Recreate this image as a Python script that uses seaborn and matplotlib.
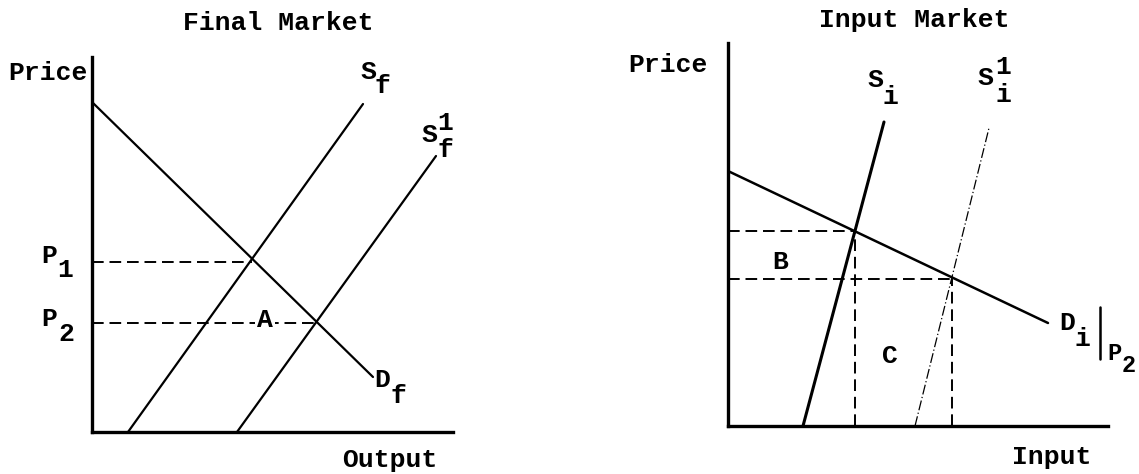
import matplotlib
matplotlib.use("Agg")
import matplotlib.pyplot as plt
import seaborn as sns
import numpy as np

# ---------------- data (units: panel-relative) ----------------
# Final market
demand_f_q = [0, 281]
demand_f_p = [330, 55]
supply_f_q = [36, 271]
supply_f_p = [0, 328]
supply_f1_q = [145, 344]
supply_f1_p = [0, 276]
p1_price, p1_qty = 170, 160
p2_price, p2_qty = 109, 223

# Input market
demand_i_q = [0, 320]
demand_i_p = [255, 103]
supply_i_q = [75, 156]
supply_i_p = [0, 304]
supply_i1_q = [187, 261]
supply_i1_p = [0, 298]
w1_price, w1_qty = 195, 127
w2_price, w2_qty = 147, 224

sns.set_theme(style="white")
plt.rcParams['font.family'] = ['Liberation Mono', 'DejaVu Sans Mono']

W, H = 1139, 474
fig = plt.figure(figsize=(W / 100, H / 100), dpi=100)
fig.patch.set_facecolor("white")

def add_axes(x0, y0_top, x1, y1_bottom):
    return fig.add_axes([x0 / W, (H - y1_bottom) / H, (x1 - x0) / W, (y1_bottom - y0_top) / H])

axL = add_axes(92, 57, 453, 432)
axR = add_axes(728, 43, 1108, 426)

for ax, xl, yl in [(axL, 361, 375), (axR, 380, 383)]:
    ax.set_xlim(0, xl)
    ax.set_ylim(0, yl)
    sns.despine(ax=ax)
    for s in ["left", "bottom"]:
        ax.spines[s].set_linewidth(2.4)
        ax.spines[s].set_color("black")
    ax.set_xticks([])
    ax.set_yticks([])
    ax.set_facecolor("white")
    ax.set_xlabel("")
    ax.set_ylabel("")

def line(ax, x, y, lw=1.6, ls="-"):
    sns.lineplot(x=x, y=y, ax=ax, color="black", linewidth=lw, linestyle=ls,
                 estimator=None, sort=False)

dash = (0, (6, 3))

# Left panel
line(axL, demand_f_q, demand_f_p)
line(axL, supply_f_q, supply_f_p)
line(axL, supply_f1_q, supply_f1_p)
line(axL, [0, p1_qty], [p1_price, p1_price], lw=1.4, ls=dash)
line(axL, [0, p2_qty], [p2_price, p2_price], lw=1.4, ls=dash)

# Right panel
line(axR, demand_i_q, demand_i_p, lw=1.8)
line(axR, supply_i_q, supply_i_p, lw=2.2)
line(axR, supply_i1_q, supply_i1_p, lw=0.9, ls=(0, (8, 2, 1, 2)))
line(axR, [0, w1_qty], [w1_price, w1_price], lw=1.4, ls=dash)
line(axR, [0, w2_qty], [w2_price, w2_price], lw=1.4, ls=dash)
line(axR, [w1_qty, w1_qty], [0, w1_price], lw=1.4, ls=dash)
line(axR, [w2_qty, w2_qty], [0, w2_price], lw=1.4, ls=dash)

fs = 19
def t(ax, x, y, s, size=fs, bg=False):
    kw = {}
    if bg:
        kw["bbox"] = dict(facecolor="white", edgecolor="none", pad=1.5)
    ax.text(x, y, s, ha="center", va="center", fontsize=size, fontweight="bold",
            color="black", clip_on=False, zorder=5, **kw)

# Left labels
t(axL, 186, 409, "Final Market")
t(axL, -44, 359, "Price")
t(axL, -43, 176, "P"); t(axL, -27, 162, "1")
t(axL, -43, 113, "P"); t(axL, -26, 98, "2")
t(axL, 173, 112, "A", bg=True)
t(axL, 276, 360, "S"); t(axL, 290, 346, "f")
t(axL, 337, 297, "S"); t(axL, 353, 309, "1"); t(axL, 353, 282, "f")
t(axL, 290, 52, "D"); t(axL, 306, 36, "f")
t(axL, 298, -28, "Output")

# Right labels
t(axR, 186, 406, "Input Market")
t(axR, -60, 361, "Price")
t(axR, 147, 346, "S"); t(axR, 162, 329, "i")
t(axR, 257, 348, "S"); t(axR, 275, 359, "1"); t(axR, 275, 331, "i")
t(axR, 52, 164, "B")
t(axR, 162, 70, "C")
t(axR, 339, 103, "D"); t(axR, 354, 87, "i")
axR.plot([372, 372], [67, 119], color="black", lw=1.8, clip_on=False)
t(axR, 386, 72, "P", size=17); t(axR, 401, 61, "2", size=17)
t(axR, 324, -31, "Input")

fig.savefig("out.png", dpi=100, facecolor="white")
